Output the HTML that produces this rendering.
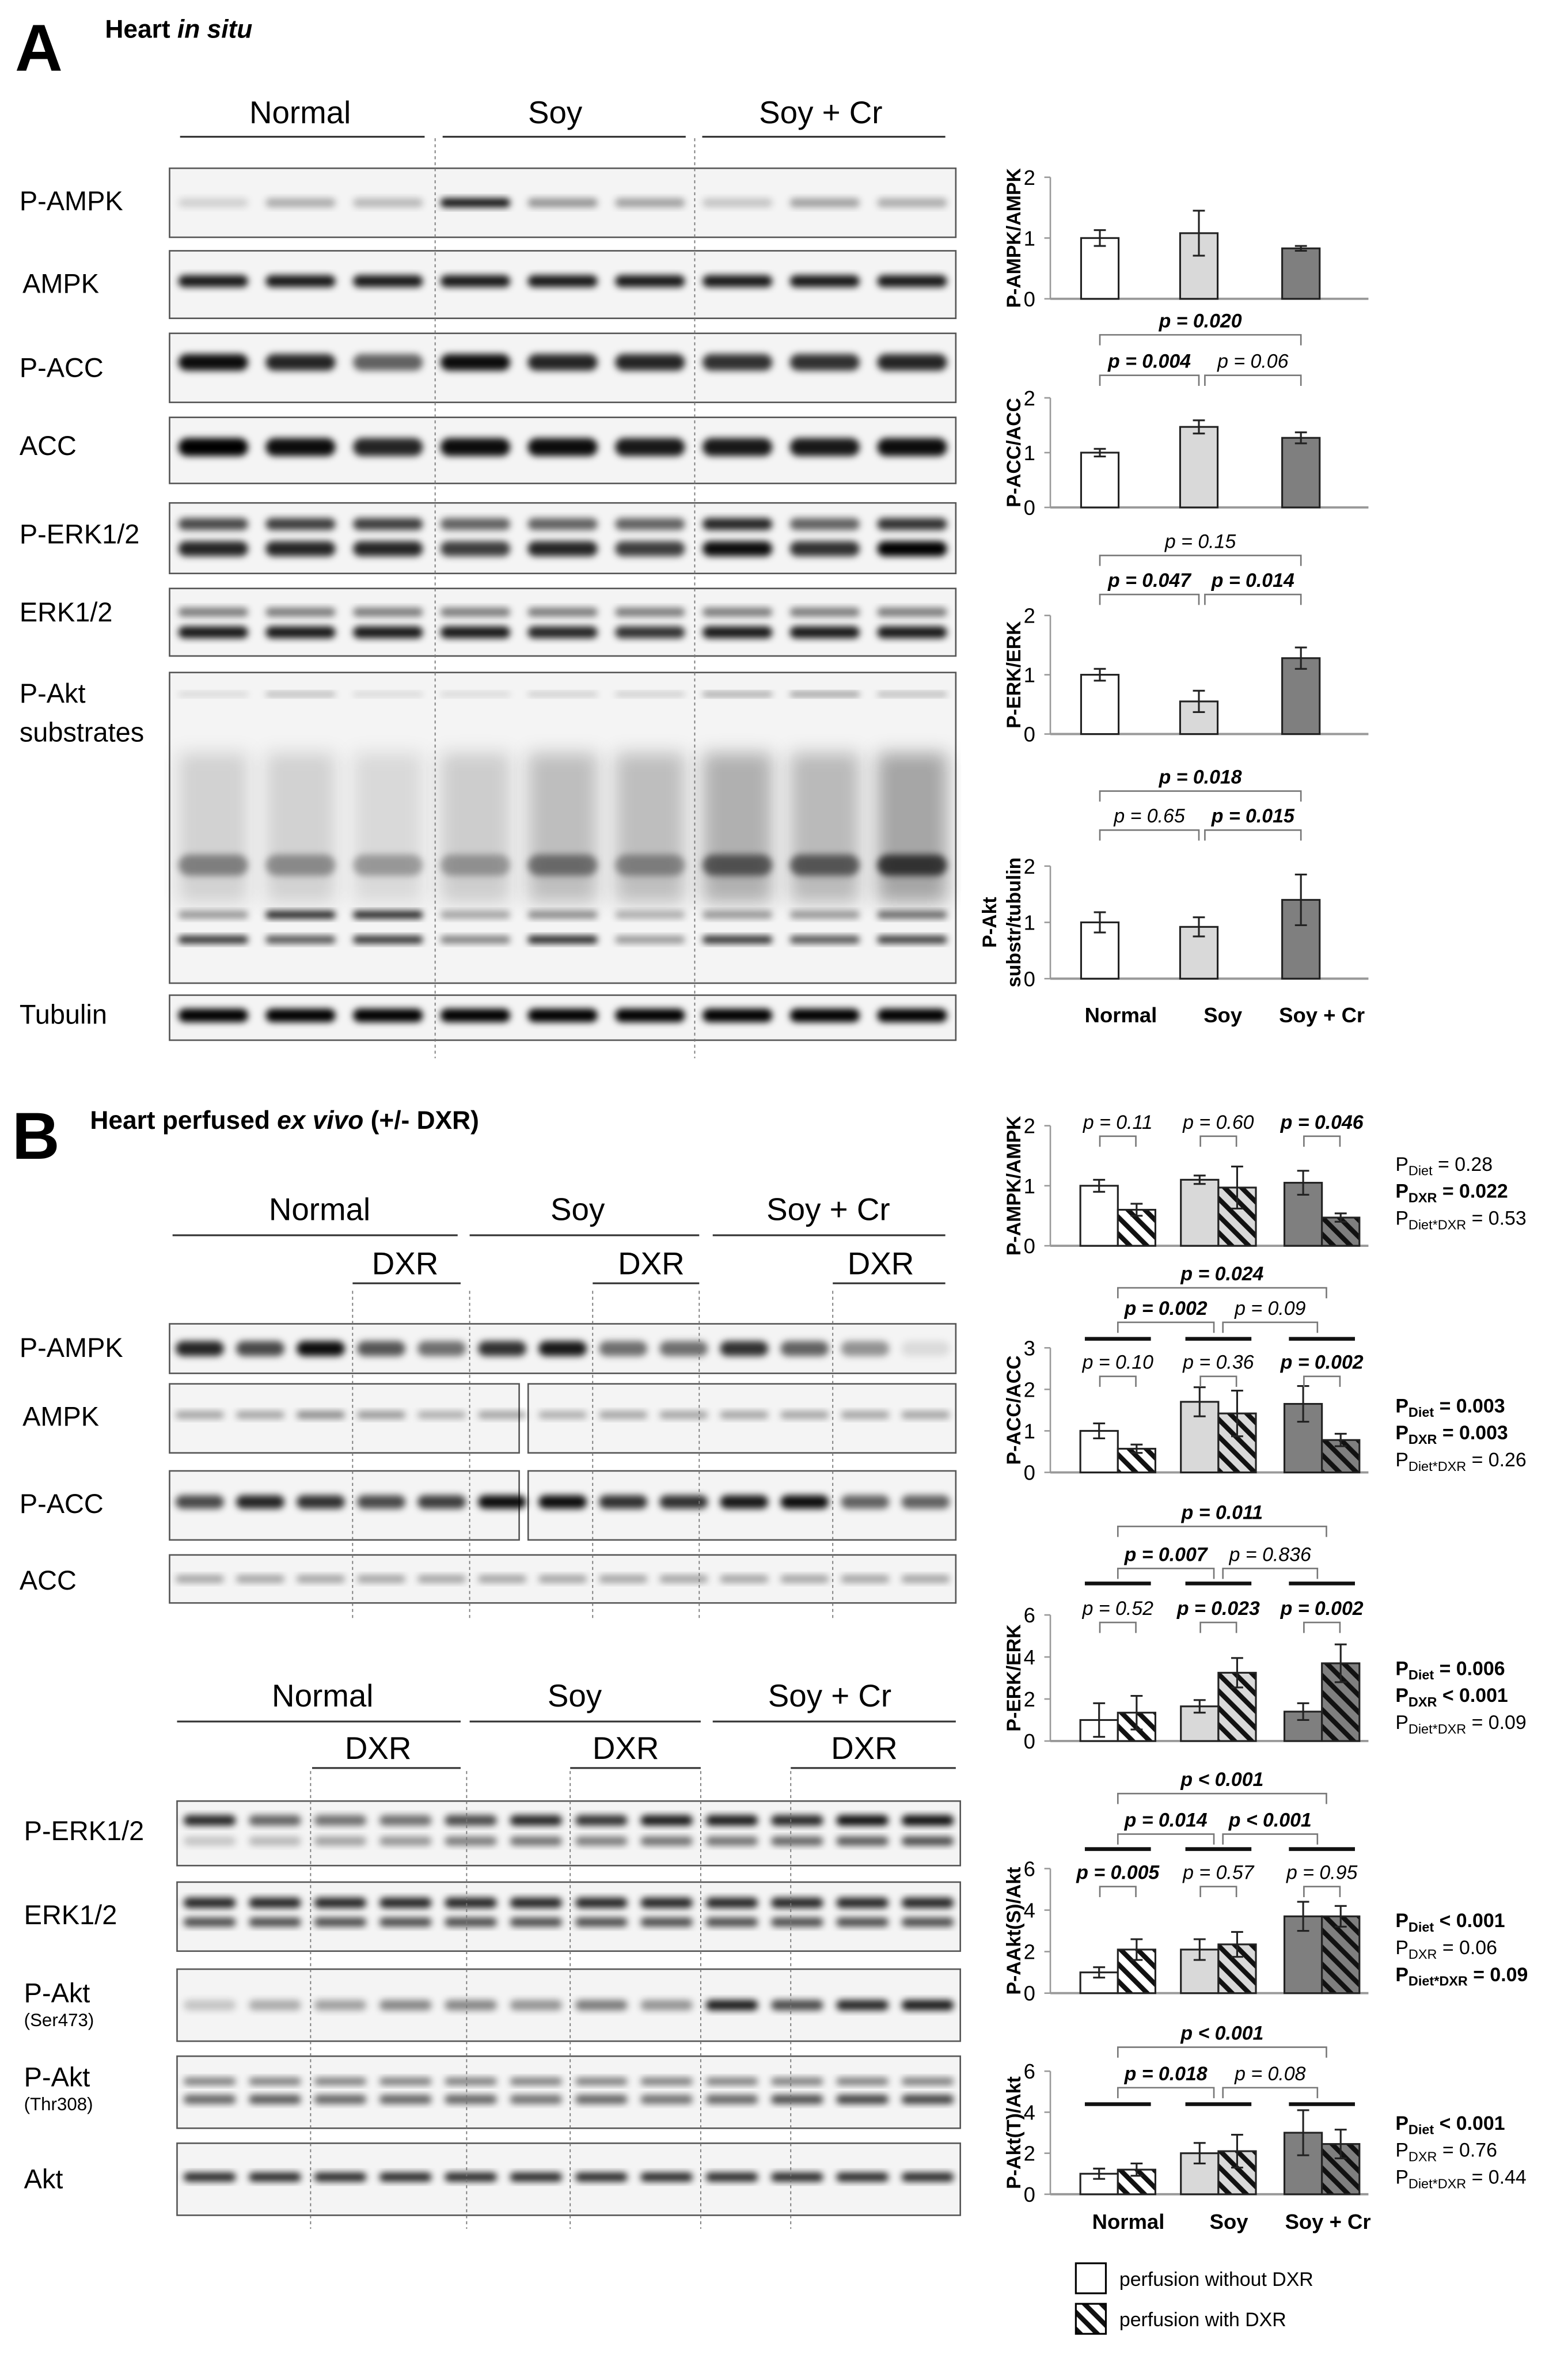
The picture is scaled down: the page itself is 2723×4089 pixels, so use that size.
<!DOCTYPE html>
<html><head><meta charset="utf-8"><style>
html,body{margin:0;padding:0;background:#fff}
svg{display:block}
text{font-family:"Liberation Sans",sans-serif}
</style></head><body>
<svg id="fig" xmlns="http://www.w3.org/2000/svg" width="2723" height="4089" viewBox="0 0 1045 1569">
<defs>
<pattern id="hatchW" patternUnits="userSpaceOnUse" width="8" height="8" patternTransform="rotate(-45)"><rect width="8" height="8" fill="#fff"/><rect width="3.2" height="8" fill="#111"/></pattern>
<pattern id="hatchL" patternUnits="userSpaceOnUse" width="8" height="8" patternTransform="rotate(-45)"><rect width="8" height="8" fill="#d9d9d9"/><rect width="3.2" height="8" fill="#111"/></pattern>
<pattern id="hatchD" patternUnits="userSpaceOnUse" width="8" height="8" patternTransform="rotate(-45)"><rect width="8" height="8" fill="#7f7f7f"/><rect width="3.2" height="8" fill="#111"/></pattern>
<filter id="blur" x="-20%" y="-50%" width="140%" height="200%"><feGaussianBlur stdDeviation="2.2"/></filter>
<filter id="blur2" x="-20%" y="-50%" width="140%" height="200%"><feGaussianBlur stdDeviation="6"/></filter>
</defs>
<g id="blots"></g>
<g id="charts"></g>
<g id="static">
<text x="10" y="47" font-size="44" font-weight="bold">A</text>
<text x="70" y="25" font-size="17" font-weight="bold">Heart <tspan font-style="italic">in situ</tspan></text>
<text x="8" y="772" font-size="44" font-weight="bold">B</text>
<text x="60" y="752" font-size="17" font-weight="bold">Heart perfused <tspan font-style="italic">ex vivo</tspan> (+/- DXR)</text>
</g>
<g id="legend">
<rect x="717" y="1508" width="20" height="20" fill="#fff" stroke="#000" stroke-width="1.2"/>
<text x="746" y="1523" font-size="13">perfusion without DXR</text>
<rect x="717" y="1535" width="20" height="20" fill="url(#hatchW)" stroke="#000" stroke-width="1.2"/>
<text x="746" y="1550" font-size="13">perfusion with DXR</text>
</g>
</svg>
<script>
const NS="http://www.w3.org/2000/svg";
function mk(tag,attrs,parent,txt){const e=document.createElementNS(NS,tag);for(const k in attrs)e.setAttribute(k,attrs[k]);if(txt!==undefined)e.textContent=txt;parent.appendChild(e);return e;}

// ---------- Chart data ----------
const groupsA=["Normal","Soy","Soy + Cr"];
const ampkA=[1.0,1.08,0.83], ampkAErr=[0.13,0.37,0.04];
const accA=[1.0,1.47,1.27], accAErr=[0.07,0.12,0.1];
const erkA=[1.0,0.55,1.28], erkAErr=[0.1,0.18,0.18];
const aktA=[1.0,0.92,1.4], aktAErr=[0.18,0.17,0.45];
const ticksA=[0,1,2];

const ampkBCtrl=[1.0,1.1,1.05], ampkBCtrlErr=[0.1,0.07,0.2];
const ampkBDxr=[0.6,0.97,0.47], ampkBDxrErr=[0.1,0.35,0.07];
const accBCtrl=[1.0,1.7,1.65], accBCtrlErr=[0.18,0.35,0.43];
const accBDxr=[0.57,1.42,0.78], accBDxrErr=[0.1,0.55,0.15];
const erkBCtrl=[1.0,1.65,1.4], erkBCtrlErr=[0.8,0.3,0.4];
const erkBDxr=[1.35,3.25,3.7], erkBDxrErr=[0.8,0.7,0.9];
const aktSBCtrl=[1.0,2.1,3.7], aktSBCtrlErr=[0.25,0.5,0.7];
const aktSBDxr=[2.1,2.35,3.7], aktSBDxrErr=[0.5,0.6,0.5];
const aktTBCtrl=[1.0,2.0,3.0], aktTBCtrlErr=[0.25,0.5,1.1];
const aktTBDxr=[1.2,2.1,2.45], aktTBDxrErr=[0.3,0.8,0.7];
const ticksB3=[0,1,2,3], ticksB2=[0,1,2], ticksB6=[0,2,4,6];

const charts=document.getElementById('charts');
const fills=["#fff","#d9d9d9","#7f7f7f"], hatches=["url(#hatchW)","url(#hatchL)","url(#hatchD)"];

function axis(g,y0,yTop,max,ticks,title,titleLines){
  const ys=v=>y0-(v/max)*(y0-yTop);
  mk('line',{x1:700,y1:yTop,x2:700,y2:y0,stroke:'#999','stroke-width':1},g);
  mk('line',{x1:700,y1:y0,x2:912,y2:y0,stroke:'#999','stroke-width':1.5},g);
  ticks.forEach(t=>{
    mk('line',{x1:696,y1:ys(t),x2:700,y2:ys(t),stroke:'#999'},g);
    const tl=mk('text',{x:690,y:ys(t)+5,'font-size':14,'text-anchor':'end'},g,String(t));
    
    
  });
  const cy=(y0+yTop)/2;
  if(titleLines){
    const t=mk('text',{x:0,y:0,'font-size':13,'font-weight':'bold','text-anchor':'middle',transform:`translate(${672},${cy}) rotate(-90)`},g);
    
    mk('tspan',{x:0,dy:-8},t,titleLines[0]);mk('tspan',{x:0,dy:16},t,titleLines[1]);
  } else {
    const t=mk('text',{x:0,y:0,'font-size':13,'font-weight':'bold','text-anchor':'middle',transform:`translate(${680},${cy}) rotate(-90)`},g,title);
    
  }
  return ys;
}
function bar(g,x,w,y0,ys,v,e,fill,name){
  const r=mk('rect',{x:x,y:ys(v),width:w,height:y0-ys(v),fill:fill,stroke:'#222','stroke-width':1.2},g);
  
  const cx=x+w/2;
  const eb=mk('path',{d:`M${cx},${ys(v+e)}V${ys(Math.max(v-e,0))}M${cx-4},${ys(v+e)}H${cx+4}M${cx-4},${ys(Math.max(v-e,0))}H${cx+4}`,stroke:'#222','stroke-width':1.2,fill:'none'},g);
  
}
function bracket(g,x1,x2,y,label,bold){
  const b=mk('path',{d:`M${x1},${y+7}V${y}H${x2}V${y+7}`,stroke:'#777','stroke-width':1,fill:'none'},g);
  
  const t=mk('text',{x:(x1+x2)/2,y:y-5,'font-size':13,'font-style':'italic','font-weight':bold?'bold':'normal','text-anchor':'middle'},g,label);
  
}
function hbar(g,x1,x2,y){const l=mk('line',{x1:x1,y1:y,x2:x2,y2:y,stroke:'#111','stroke-width':2.5},g);}
function stats(g,y,lines){
  lines.forEach((L,i)=>{
    const t=mk('text',{x:930,y:y+i*18,'font-size':13,'font-weight':L[2]?'bold':'normal'},g);
    
    const rhs=L[1].charAt(0)==='<'?' '+L[1]:' = '+L[1];
    mk('tspan',{},t,'P');mk('tspan',{'font-size':9,dy:3},t,L[0]);mk('tspan',{dy:-3},t,rhs);
  });
}

// Panel A charts
const gxA=[733,799,867];
function chartA(name,y0,yTop,vals,errs,title,titleLines){
  const g=mk('g',{},charts);
  const ys=axis(g,y0,yTop,2,ticksA,title,titleLines);
  vals.forEach((v,i)=>bar(g,gxA[i]-12.5,25,y0,ys,v,errs[i],fills[i],'bar-'+groupsA[i].toLowerCase().replace(/ \+ /,'-')));
  return g;
}
chartA('chart-a-ampk',199,118,ampkA,ampkAErr,'P-AMPK/AMPK');
const c2=chartA('chart-a-acc',338,265,accA,accAErr,'P-ACC/ACC');
bracket(c2,gxA[0],gxA[1],250,'p = 0.004',true);bracket(c2,gxA[1]+4,gxA[2],250,'p = 0.06',false);bracket(c2,gxA[0],gxA[2],223,'p = 0.020',true);
const c3=chartA('chart-a-erk',489,410,erkA,erkAErr,'P-ERK/ERK');
bracket(c3,gxA[0],gxA[1],396,'p = 0.047',true);bracket(c3,gxA[1]+4,gxA[2],396,'p = 0.014',true);bracket(c3,gxA[0],gxA[2],370,'p = 0.15',false);
const c4=chartA('chart-a-akt',652,577,aktA,aktAErr,'',['P-Akt','substr/tubulin']);
bracket(c4,gxA[0],gxA[1],553,'p = 0.65',false);bracket(c4,gxA[1]+4,gxA[2],553,'p = 0.015',true);bracket(c4,gxA[0],gxA[2],527,'p = 0.018',true);
groupsA.forEach((n,i)=>{const t=mk('text',{x:[747,815,881][i],y:681,'font-size':14,'font-weight':'bold','text-anchor':'middle'},charts,n);});

// Panel B charts
const gxB=[745,812,881];
function chartB(name,y0,yTop,max,ticks,c,ce,d,de,title){
  const g=mk('g',{},charts);
  const ys=axis(g,y0,yTop,max,ticks,title);
  c.forEach((v,i)=>bar(g,gxB[i]-25,25,y0,ys,v,ce[i],fills[i],'bar-ctrl-'+i));
  d.forEach((v,i)=>bar(g,gxB[i],25,y0,ys,v,de[i],hatches[i],'bar-dxr-'+i));
  return g;
}
function inner(g,y,labels,bolds){gxB.forEach((x,i)=>bracket(g,x-12,x+12,y,labels[i],bolds[i]));}
const b1=chartB('chart-b-ampk',830,750,2,ticksB2,ampkBCtrl,ampkBCtrlErr,ampkBDxr,ampkBDxrErr,'P-AMPK/AMPK');
inner(b1,757,['p = 0.11','p = 0.60','p = 0.046'],[false,false,true]);
stats(b1,780,[['Diet','0.28',false],['DXR','0.022',true],['Diet*DXR','0.53',false]]);
const b2=chartB('chart-b-acc',981,898,3,ticksB3,accBCtrl,accBCtrlErr,accBDxr,accBDxrErr,'P-ACC/ACC');
inner(b2,917,['p = 0.10','p = 0.36','p = 0.002'],[false,false,true]);
gxB.forEach(x=>hbar(b2,x-22,x+22,892));
bracket(b2,gxB[0],gxB[1]-3,881,'p = 0.002',true);bracket(b2,gxB[1]+3,gxB[2]-3,881,'p = 0.09',false);bracket(b2,gxB[0],gxB[2]+3,858,'p = 0.024',true);
stats(b2,941,[['Diet','0.003',true],['DXR','0.003',true],['Diet*DXR','0.26',false]]);
const b3=chartB('chart-b-erk',1160,1076,6,ticksB6,erkBCtrl,erkBCtrlErr,erkBDxr,erkBDxrErr,'P-ERK/ERK');
inner(b3,1081,['p = 0.52','p = 0.023','p = 0.002'],[false,true,true]);
gxB.forEach(x=>hbar(b3,x-22,x+22,1055));
bracket(b3,gxB[0],gxB[1]-3,1045,'p = 0.007',true);bracket(b3,gxB[1]+3,gxB[2]-3,1045,'p = 0.836',false);bracket(b3,gxB[0],gxB[2]+3,1017,'p = 0.011',true);
stats(b3,1116,[['Diet','0.006',true],['DXR','< 0.001',true],['Diet*DXR','0.09',false]]);
const b4=chartB('chart-b-akt-s',1328,1245,6,ticksB6,aktSBCtrl,aktSBCtrlErr,aktSBDxr,aktSBDxrErr,'P-AAkt(S)/Akt');
inner(b4,1257,['p = 0.005','p = 0.57','p = 0.95'],[true,false,false]);
gxB.forEach(x=>hbar(b4,x-22,x+22,1232));
bracket(b4,gxB[0],gxB[1]-3,1222,'p = 0.014',true);bracket(b4,gxB[1]+3,gxB[2]-3,1222,'p < 0.001',true);bracket(b4,gxB[0],gxB[2]+3,1195,'p < 0.001',true);
stats(b4,1284,[['Diet','< 0.001',true],['DXR','0.06',false],['Diet*DXR','0.09',true]]);
const b5=chartB('chart-b-akt-t',1462,1380,6,ticksB6,aktTBCtrl,aktTBCtrlErr,aktTBDxr,aktTBDxrErr,'P-Akt(T)/Akt');
gxB.forEach(x=>hbar(b5,x-22,x+22,1402));
bracket(b5,gxB[0],gxB[1]-3,1391,'p = 0.018',true);bracket(b5,gxB[1]+3,gxB[2]-3,1391,'p = 0.08',false);bracket(b5,gxB[0],gxB[2]+3,1364,'p < 0.001',true);
stats(b5,1419,[['Diet','< 0.001',true],['DXR','0.76',false],['Diet*DXR','0.44',false]]);
groupsA.forEach((n,i)=>{const t=mk('text',{x:[752,819,885][i],y:1485,'font-size':14,'font-weight':'bold','text-anchor':'middle'},charts,n);});

// ---------- Blots ----------
const blots=document.getElementById('blots');
function label(x,y,txt,size,name){const t=mk('text',{x:x,y:y,'font-size':size||18},blots,txt);return t;}
function row(name,x0,x1,y0,y1,n,bands,splits){
  const g=mk('g',{},blots);
  const boxes=splits?splits:[[x0,x1]];
  boxes.forEach(b=>mk('rect',{x:b[0],y:y0,width:b[1]-b[0],height:y1-y0,fill:'#f4f4f4',stroke:'#555','stroke-width':1},g));
  const lw=(x1-x0)/n;
  bands.forEach(bd=>{
    for(let i=0;i<n;i++){
      const a=bd.a[i%bd.a.length];
      mk('rect',{x:x0+i*lw+lw*0.1,y:y0+bd.y*(y1-y0)-bd.h/2,width:lw*0.8,height:bd.h,rx:bd.big?2:bd.h/2,fill:'#000','fill-opacity':a,filter:bd.big?'url(#blur2)':'url(#blur)'},g);
    }
  });
}
function header(cx,y,txt,lx1,lx2,ly,size){label(cx,y,txt,size||21,'group-header').setAttribute('text-anchor','middle');const l=mk('line',{x1:lx1,y1:ly,x2:lx2,y2:ly,stroke:'#333','stroke-width':1.2},blots);}
function dotted(x,y1,y2){const l=mk('line',{x1:x,y1:y1,x2:x,y2:y2,stroke:'#777','stroke-width':0.7,'stroke-dasharray':'2,2'},blots);}

// Panel A blots
header(200,82,'Normal',120,283,91);header(370,82,'Soy',295,457,91);header(547,82,'Soy + Cr',468,630,91);
const xa0=113,xa1=637;
row('blot-a-p-ampk',xa0,xa1,112,158,9,[{y:0.5,h:6,a:[0.15,0.3,0.25,0.95,0.4,0.35,0.2,0.35,0.3]}]);label(13,140,'P-AMPK',18,'row-label');
row('blot-a-ampk',xa0,xa1,167,212,9,[{y:0.45,h:8,a:[0.9]}]);label(15,195,'AMPK',18,'row-label');
row('blot-a-p-acc',xa0,xa1,222,268,9,[{y:0.42,h:11,a:[0.95,0.85,0.6,0.95,0.85,0.85,0.8,0.8,0.85]}]);label(13,251,'P-ACC',18,'row-label');
row('blot-a-acc',xa0,xa1,278,322,9,[{y:0.45,h:12,a:[1,0.95,0.85,0.95,0.95,0.9,0.9,0.9,0.95]}]);label(13,303,'ACC',18,'row-label');
row('blot-a-p-erk',xa0,xa1,335,382,9,[{y:0.3,h:8,a:[0.7,0.75,0.75,0.6,0.6,0.6,0.85,0.6,0.8]},{y:0.65,h:10,a:[0.85,0.85,0.85,0.75,0.85,0.75,0.95,0.8,1]}]);label(13,362,'P-ERK1/2',18,'row-label');
row('blot-a-erk',xa0,xa1,392,437,9,[{y:0.35,h:6,a:[0.5]},{y:0.65,h:8,a:[0.9,0.9,0.9,0.9,0.85,0.8,0.9,0.9,0.9]}]);label(13,414,'ERK1/2',18,'row-label');
row('blot-a-p-akt-substrates',xa0,xa1,448,655,9,[{y:0.5,h:100,a:[0.14,0.14,0.11,0.16,0.22,0.22,0.28,0.24,0.32],big:true},{y:0.62,h:14,a:[0.4,0.35,0.3,0.3,0.45,0.35,0.55,0.55,0.7]},{y:0.78,h:5,a:[0.4,0.9,0.9,0.35,0.45,0.3,0.4,0.4,0.6]},{y:0.86,h:5,a:[0.85,0.7,0.85,0.5,0.9,0.4,0.85,0.7,0.8]},{y:0.07,h:3,a:[0.15,0.3,0.15,0.15,0.2,0.2,0.4,0.45,0.3]}]);
label(13,468,'P-Akt',18,'row-label');label(13,494,'substrates',18,'row-label');
row('blot-a-tubulin',xa0,xa1,663,693,9,[{y:0.45,h:9,a:[1]}]);label(13,682,'Tubulin',18,'row-label');
dotted(290,92,705);dotted(463,92,705);

// Panel B blots, set 1
header(213,813,'Normal',115,305,823);header(385,813,'Soy',313,466,823);header(552,813,'Soy + Cr',475,630,823);
header(270,849,'DXR',235,307,855);header(434,849,'DXR',395,466,855);header(587,849,'DXR',555,630,855);
const xb0=113,xb1=637;
row('blot-b-p-ampk',xb0,xb1,882,915,13,[{y:0.5,h:10,a:[0.85,0.7,0.95,0.65,0.55,0.8,0.9,0.55,0.55,0.8,0.6,0.4,0.1]}]);label(13,904,'P-AMPK',18,'row-label');
row('blot-b-ampk',xb0,xb1,922,968,13,[{y:0.45,h:5,a:[0.35,0.35,0.45,0.4,0.3,0.35,0.3,0.35,0.35,0.35,0.35,0.35,0.35]}],[[113,346],[352,637]]);label(15,950,'AMPK',18,'row-label');
row('blot-b-p-acc',xb0,xb1,980,1026,13,[{y:0.45,h:9,a:[0.7,0.85,0.8,0.7,0.75,0.95,0.95,0.8,0.8,0.9,0.95,0.6,0.6]}],[[113,346],[352,637]]);label(13,1008,'P-ACC',18,'row-label');
row('blot-b-acc',xb0,xb1,1036,1068,13,[{y:0.5,h:5,a:[0.35]}]);label(13,1059,'ACC',18,'row-label');
[235,313,395,466,555].forEach(x=>dotted(x,860,1080));
// set 2
header(215,1137,'Normal',118,307,1147);header(383,1137,'Soy',313,467,1147);header(553,1137,'Soy + Cr',475,637,1147);
header(252,1172,'DXR',208,307,1178);header(417,1172,'DXR',380,467,1178);header(576,1172,'DXR',527,637,1178);
const xc0=118,xc1=640;
row('blot-b-p-erk',xc0,xc1,1200,1243,12,[{y:0.3,h:7,a:[0.85,0.6,0.55,0.55,0.7,0.85,0.8,0.9,0.9,0.85,0.95,0.95]},{y:0.62,h:6,a:[0.2,0.25,0.35,0.4,0.5,0.55,0.5,0.55,0.55,0.6,0.65,0.7]}]);label(16,1226,'P-ERK1/2',18,'row-label');
row('blot-b-erk',xc0,xc1,1254,1300,12,[{y:0.3,h:7,a:[0.85]},{y:0.58,h:6,a:[0.7]}]);label(16,1282,'ERK1/2',18,'row-label');
row('blot-b-p-akt-ser',xc0,xc1,1312,1360,12,[{y:0.5,h:7,a:[0.2,0.3,0.35,0.45,0.45,0.4,0.5,0.4,0.9,0.7,0.85,0.9]}]);label(16,1334,'P-Akt',18,'row-label');label(16,1350,'(Ser473)',12,'row-sublabel');
row('blot-b-p-akt-thr',xc0,xc1,1370,1418,12,[{y:0.35,h:5,a:[0.5]},{y:0.6,h:6,a:[0.6,0.65,0.6,0.6,0.6,0.55,0.6,0.55,0.6,0.7,0.75,0.75]}]);label(16,1390,'P-Akt',18,'row-label');label(16,1406,'(Thr308)',12,'row-sublabel');
row('blot-b-akt',xc0,xc1,1428,1476,12,[{y:0.47,h:6,a:[0.85]}]);label(16,1458,'Akt',18,'row-label');
[207,311,380,467,527].forEach(x=>dotted(x,1180,1485));
</script>
</body></html>
